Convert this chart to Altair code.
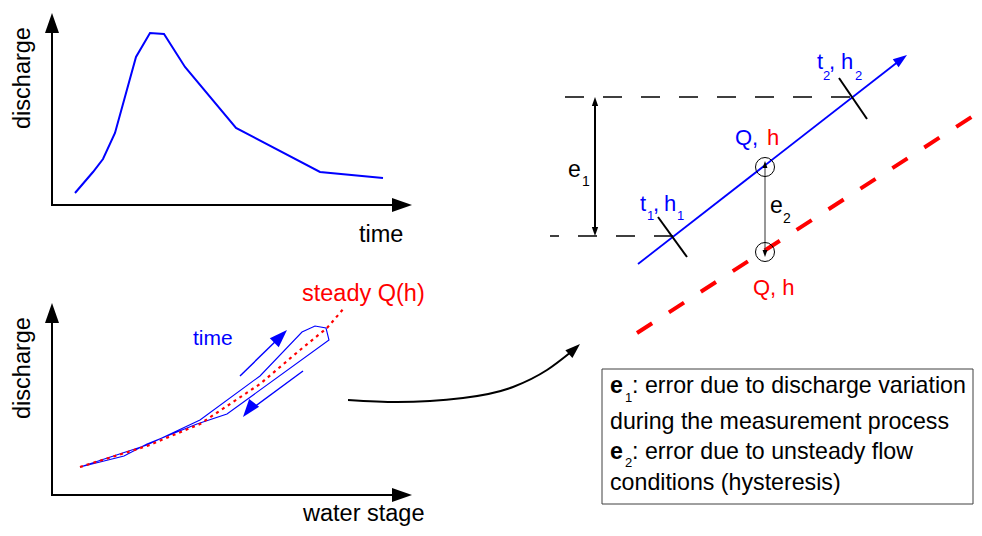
import math
import altair as alt
import pandas as pd

FONT = "Liberation Sans"
BLUE = "#0000ff"
RED = "#ff0000"
BLACK = "#000000"

# ---------------- data (pixel units) ----------------
# top-left panel: hydrograph (time -> discharge)
hydro_time = [75, 93, 103, 115, 136, 150, 164, 185, 236, 320, 383]
hydro_discharge = [193, 172, 159, 133, 57, 33, 34, 67, 128, 172, 178]

# bottom-left panel: hysteresis loop (water stage -> discharge)
loop_stage = [80, 147, 200, 260, 302, 315, 326, 329, 227, 197, 147, 124, 80]
loop_discharge = [467, 445, 420, 376, 332, 326, 328, 340, 414, 424, 444, 456, 467]
steady_stage = [80, 147, 200, 260, 300, 327, 345]
steady_discharge = [467, 446, 424, 384, 350, 328, 307]

# connecting curved arrow
curve_x = [348, 397, 463, 513, 547, 571]
curve_y = [400, 402, 398, 387, 370, 352]

# straight segments, by style
axes_x1 = [52, 51, 52, 51]
axes_y1 = [206, 205, 496, 495]
axes_x2 = [52, 396, 52, 396]
axes_y2 = [30, 205, 320, 495]

ticks_x1 = [658, 839, 595]
ticks_y1 = [217, 78, 104]
ticks_x2 = [687, 867, 595]
ticks_y2 = [257, 119, 229]

time_arrows_x1 = [240, 303]
time_arrows_y1 = [376, 371]
time_arrows_x2 = [280, 250]
time_arrows_y2 = [337, 410]

rating_x1 = [638]
rating_y1 = [264]
rating_x2 = [899]
rating_y2 = [61]

guide_x1 = [565, 673]
guide_y1 = [97, 236]
guide_x2 = [852, 550]
guide_y2 = [97, 236]

steady_x1 = [637]
steady_y1 = [333]
steady_x2 = [973]
steady_y2 = [116]

e2_x1 = [765]
e2_y1 = [166]
e2_x2 = [765]
e2_y2 = [252]

# arrowheads: tail -> tip, length, colour
head_tail_x = [52, 392, 52, 392, 274, 254, 569, 896, 595, 595, 765, 765]
head_tail_y = [33, 205, 323, 495, 343, 403, 354, 63, 106, 227, 168, 250]
head_tip_x = [52, 412, 52, 412, 287, 243, 580, 907, 595, 595, 765, 765]
head_tip_y = [13, 205, 303, 495, 330, 417, 344, 55, 97, 236, 161, 257]
head_len = [20, 20, 20, 20, 18, 18, 15, 14, 9, 9, 7, 7]
head_color = [BLACK, BLACK, BLACK, BLACK, BLUE, BLUE, BLACK, BLUE, BLACK, BLACK, BLACK, BLACK]

# circles (Q, h points)
circle_x = [765, 765]
circle_y = [167, 252]

# legend box
box_x1, box_y1, box_x2, box_y2 = [602], [369], [973], [504]

# regular text pieces
txt = ["time", "water stage", "steady Q(h)", "time",
       "e", "1", "e", "2",
       "t", "1", ",", "h", "1",
       "t", "2", ",", "h", "2",
       "Q,", "h", "Q, h",
       "1", ": error due to discharge variation",
       "during the measurement process",
       "2", ": error due to unsteady flow",
       "conditions (hysteresis)"]
txt_x = [359, 303, 302, 193,
         568, 582, 770, 783,
         640, 647, 653, 664, 677,
         817, 823, 829, 841, 855,
         735, 767, 753,
         625, 632,
         610,
         625, 632,
         610]
txt_y = [242, 521, 301, 345,
         177, 186, 213, 223,
         211, 220, 211, 211, 220,
         69, 80, 69, 69, 80,
         145, 145, 295,
         402, 393,
         429,
         467, 459,
         490]
txt_size = [23.5, 23.5, 23.5, 21,
            23, 14, 23, 14,
            22, 13, 22, 22, 13,
            22, 13, 22, 22, 13,
            22, 22, 22,
            13, 23.2,
            23.2,
            13, 23.2,
            23.2]
txt_color = [BLACK, BLACK, RED, BLUE,
             BLACK, BLACK, BLACK, BLACK,
             BLUE, BLUE, BLUE, BLUE, BLUE,
             BLUE, BLUE, BLUE, BLUE, BLUE,
             BLUE, RED, RED,
             BLACK, BLACK,
             BLACK,
             BLACK, BLACK,
             BLACK]

bold_txt = ["e", "e"]
bold_x = [610, 610]
bold_y = [393, 459]

rot_txt = ["discharge", "discharge"]
rot_x = [30, 30]
rot_y = [78, 368]

# ---------------- chart ----------------
XS = alt.Scale(domain=[8, 974], nice=False, zero=False)
YS = alt.Scale(domain=[8, 528], nice=False, zero=False, reverse=True)


def xe(f="x"):
    return alt.X(f"{f}:Q", scale=XS, axis=None)


def ye(f="y"):
    return alt.Y(f"{f}:Q", scale=YS, axis=None)


def seg_layer(x1, y1, x2, y2, **mark):
    df = pd.DataFrame({"x": x1, "y": y1, "x2": x2, "y2": y2})
    return alt.Chart(df).mark_rule(strokeCap="butt", **mark).encode(
        x=xe(), y=ye(), x2="x2:Q", y2="y2:Q")


def line_layer(xs, ys, **mark):
    df = pd.DataFrame({"x": xs, "y": ys, "o": list(range(len(xs)))})
    return alt.Chart(df).mark_line(**mark).encode(x=xe(), y=ye(), order="o:Q")


angles = []
for tx, ty, hx, hy in zip(head_tail_x, head_tail_y, head_tip_x, head_tip_y):
    a = math.degrees(math.atan2(hx - tx, -(hy - ty))) % 360
    angles.append(a)
heads_df = pd.DataFrame({"x": head_tip_x, "y": head_tip_y, "angle": angles,
                         "size": [L * L for L in head_len], "color": head_color})
ARROW = "M0,0L0.7,2L-0.7,2Z"
heads = alt.Chart(heads_df).mark_point(shape=ARROW, filled=True, opacity=1, strokeWidth=0).encode(
    x=xe(), y=ye(),
    angle=alt.Angle("angle:Q", scale=None),
    size=alt.Size("size:Q", scale=None),
    color=alt.Color("color:N", scale=None))

circles = alt.Chart(pd.DataFrame({"x": circle_x, "y": circle_y})).mark_point(
    shape="circle", filled=False, color=BLACK, strokeWidth=1, size=361, opacity=1).encode(x=xe(), y=ye())

box = alt.Chart(pd.DataFrame({"x": box_x1, "y": box_y1, "x2": box_x2, "y2": box_y2})).mark_rect(
    fill="white", stroke="#404040", strokeWidth=1).encode(x=xe(), y=ye(), x2="x2:Q", y2="y2:Q")

texts = alt.Chart(pd.DataFrame({"x": txt_x, "y": txt_y, "t": txt, "s": txt_size, "c": txt_color})).mark_text(
    font=FONT, align="left", baseline="alphabetic").encode(
    x=xe(), y=ye(), text="t:N",
    size=alt.Size("s:Q", scale=None), color=alt.Color("c:N", scale=None))

bold = alt.Chart(pd.DataFrame({"x": bold_x, "y": bold_y, "t": bold_txt})).mark_text(
    font=FONT, align="left", baseline="alphabetic", fontWeight="bold", fontSize=23.2, color=BLACK).encode(
    x=xe(), y=ye(), text="t:N")

rot = alt.Chart(pd.DataFrame({"x": rot_x, "y": rot_y, "t": rot_txt})).mark_text(
    font=FONT, align="center", baseline="alphabetic", fontSize=23.5, angle=270, color=BLACK).encode(
    x=xe(), y=ye(), text="t:N")

chart = alt.layer(
    line_layer(hydro_time, hydro_discharge, color=BLUE, strokeWidth=2),
    line_layer(loop_stage, loop_discharge, color=BLUE, strokeWidth=1.1),
    line_layer(steady_stage, steady_discharge, color=RED, strokeWidth=2.2, strokeDash=[3, 4]),
    line_layer(curve_x, curve_y, color=BLACK, strokeWidth=2, interpolate="monotone"),
    seg_layer(axes_x1, axes_y1, axes_x2, axes_y2, color=BLACK, strokeWidth=2),
    seg_layer(time_arrows_x1, time_arrows_y1, time_arrows_x2, time_arrows_y2, color=BLUE, strokeWidth=1.4),
    seg_layer(guide_x1, guide_y1, guide_x2, guide_y2, color=BLACK, strokeWidth=1.5, strokeDash=[19, 19]),
    seg_layer(steady_x1, steady_y1, steady_x2, steady_y2, color=RED, strokeWidth=4, strokeDash=[18, 20]),
    seg_layer(rating_x1, rating_y1, rating_x2, rating_y2, color=BLUE, strokeWidth=1.8),
    seg_layer(ticks_x1, ticks_y1, ticks_x2, ticks_y2, color=BLACK, strokeWidth=2),
    seg_layer(e2_x1, e2_y1, e2_x2, e2_y2, color="#333333", strokeWidth=1),
    circles,
    heads,
    box,
    texts,
    bold,
    rot,
).properties(width=966, height=520, padding=0, autosize="none", background="white"
).configure_view(strokeOpacity=0)

chart.save("out.html", embed_options={"renderer": "svg", "actions": False})
